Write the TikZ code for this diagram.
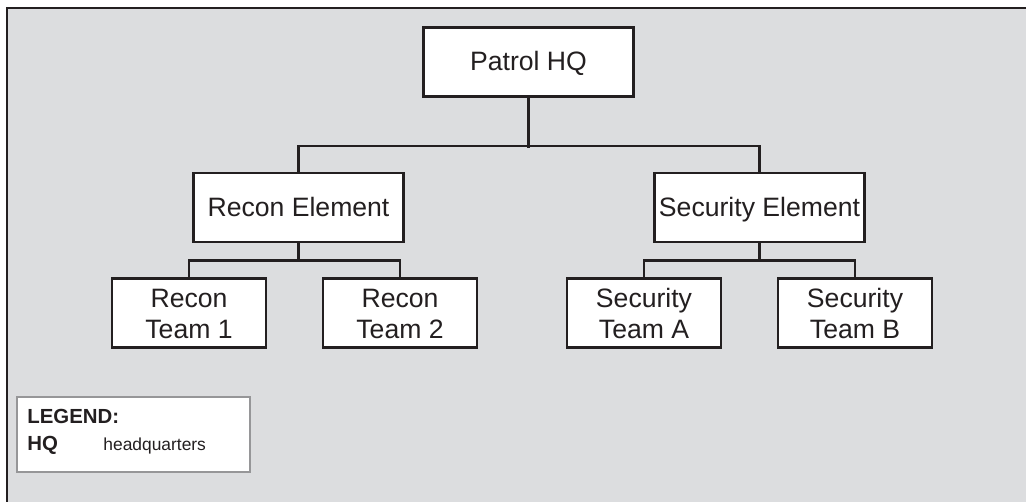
\documentclass[tikz,border=0pt]{standalone}
\usepackage{fontspec}
\setmainfont{Liberation Sans}
\usetikzlibrary{positioning}
\definecolor{bggray}{RGB}{220,221,223}
\definecolor{legendline}{RGB}{150,150,152}
\definecolor{inkline}{RGB}{35,31,32}
\tikzset{
  unitbox/.style={draw=inkline, fill=white, line width=1.2pt, inner sep=0pt, align=center,
    font=\fontsize{13.3}{15.5}\selectfont, text=inkline},
  wide/.style={unitbox, minimum width=105pt, minimum height=34.5pt, text height=9.5pt, text depth=1pt},
  team/.style={unitbox, minimum width=77pt, minimum height=34.5pt, text height=25pt, text depth=0pt},
  link/.style={draw=inkline, line width=1.2pt}
}
\begin{document}
\begin{tikzpicture}[x=0.5pt, y=-0.5pt]
  \useasboundingbox (0,0) rectangle (1026,502);
  % Hintergrund und Rahmen
  \fill[bggray] (7,8) rectangle (1026,502);
  \draw[inkline, line width=1.4pt] (7,502) -- (7,8) -- (1026,8);

  % Stab und Elemente
  \node[wide] (hq) at (528.5,62) {Patrol HQ};
  \node[wide] (recon) at (298.5,207.5) {Recon Element};
  \node[wide] (sec) at (759.5,207.5) {Security Element};

  % Trupps
  \node[team] (rt1) at (189,313) {Recon\\Team 1};
  \node[team] (rt2) at (400,313) {Recon\\Team 2};
  \node[team] (stA) at (644,313) {Security\\Team A};
  \node[team] (stB) at (855,313) {Security\\Team B};

  % Verbindungen
  \draw[link] (hq.south) -- ++(0,50);
  \draw[link] (recon.north) -- ++(0,-26) -| (sec.north);
  \draw[link] (recon.south) -- ++(0,19);
  \draw[link] (rt1.north) -- ++(0,-17) -| (rt2.north);
  \draw[link] (sec.south) -- ++(0,19);
  \draw[link] (stA.north) -- ++(0,-17) -| (stB.north);

  % Legende
  \draw[legendline, fill=white, line width=1pt] (17,397) rectangle (250,472);
  \node[anchor=base west, inner sep=0pt, text=inkline, font=\fontsize{10.2}{12}\selectfont\bfseries] (legtitle) at (27,423) {LEGEND:};
  \node[anchor=base west, inner sep=0pt, text=inkline, font=\fontsize{10.2}{12}\selectfont\bfseries] (legkey) at (27,450) {HQ};
  \node[anchor=base west, inner sep=0pt, text=inkline, font=\fontsize{8.7}{10}\selectfont] (legtext) at (103,450) {headquarters};
\end{tikzpicture}
\end{document}
